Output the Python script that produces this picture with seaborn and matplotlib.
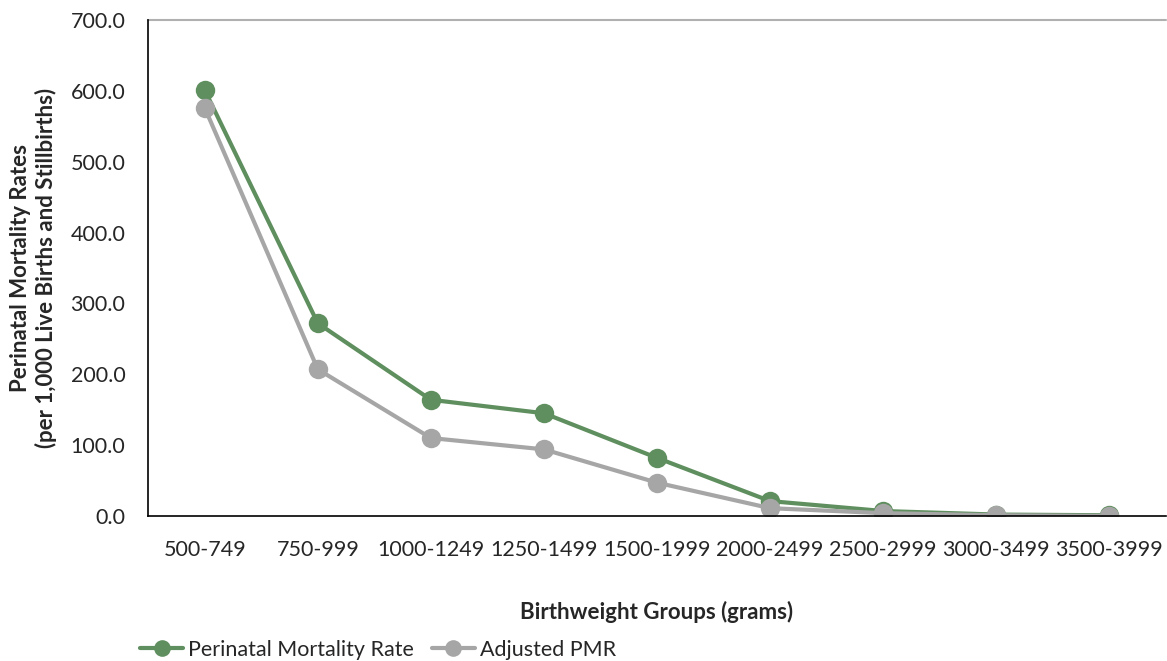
import matplotlib
matplotlib.use("Agg")
import matplotlib.pyplot as plt
import seaborn as sns
import pandas as pd

groups = ["500-749", "750-999", "1000-1249", "1250-1499", "1500-1999",
          "2000-2499", "2500-2999", "3000-3499", "3500-3999"]
pmr = [601.0, 272.0, 164.0, 145.0, 82.0, 21.0, 7.0, 2.0, 1.0]
adjusted_pmr = [576.0, 207.0, 110.0, 94.0, 47.0, 11.0, 4.0, 1.0, 0.0]
series_names = ["Perinatal Mortality Rate", "Adjusted PMR"]
colors = ["#5F8F5F", "#A6A6A6"]

df = pd.DataFrame({
    "group": groups * 2,
    "rate": pmr + adjusted_pmr,
    "series": [series_names[0]] * len(groups) + [series_names[1]] * len(groups),
})

sns.set_style("white")
plt.rcParams["font.family"] = ["Lato", "DejaVu Sans"]

fig = plt.figure(figsize=(11.67, 6.61), dpi=100)
ax = fig.add_axes([0.127, 0.2194, 0.872, 0.7503])

sns.lineplot(data=df, x="group", y="rate", hue="series", palette=colors,
             marker="o", markersize=14, markeredgewidth=0, linewidth=3,
             sort=False, ax=ax, legend=False)

ax.set_xlim(-0.5, len(groups) - 0.5)
ax.set_ylim(0, 700)
ax.set_yticks(range(0, 701, 100))
ax.set_yticklabels([f"{v:.1f}" for v in range(0, 701, 100)], fontsize=15.5)
ax.set_xticks(range(len(groups)))
ax.set_xticklabels(groups, fontsize=15.5)
ax.set_xticks([i - 0.5 for i in range(len(groups) + 1)], minor=True)
ax.tick_params(axis="x", which="major", length=0, pad=17)
ax.tick_params(axis="x", which="minor", length=5, width=1.2, direction="out", color="black")
ax.tick_params(axis="y", length=11, width=1.2, direction="inout", color="black", pad=11)

for side in ["top", "right"]:
    ax.spines[side].set_visible(False)
ax.spines["left"].set_color("black")
ax.spines["left"].set_linewidth(1.2)
ax.spines["bottom"].set_color("black")
ax.spines["bottom"].set_linewidth(1.2)
ax.axhline(700, color="#B0B0B0", linewidth=1.5, clip_on=False)

ax.set_xlabel("Birthweight Groups (grams)", fontsize=16, fontweight="bold", labelpad=30)
ax.set_ylabel("Perinatal Mortality Rates\n(per 1,000 Live Births and Stillbirths)",
              fontsize=16, fontweight="bold", labelpad=10)

handles = [plt.Line2D([], [], color=c, marker="o", markersize=12, markeredgewidth=0,
                      linewidth=3) for c in colors]
fig.legend(handles, series_names, loc="center left", bbox_to_anchor=(0.12, 0.017),
           ncol=2, frameon=False, fontsize=15.5, handlelength=2.0, handletextpad=0.25,
           columnspacing=0.8, borderpad=0, borderaxespad=0)

fig.savefig("out.png", dpi=100)
